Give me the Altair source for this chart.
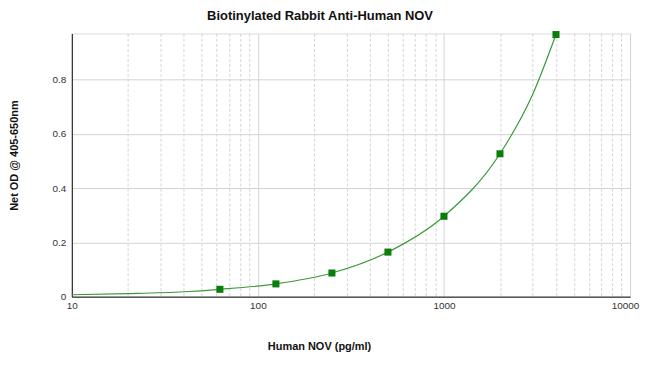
import altair as alt
import pandas as pd

# Measured standards (concentration pg/ml, net OD)
conc = [62.5, 125, 250, 500, 1000, 2000, 4000]
od = [0.027, 0.047, 0.087, 0.164, 0.296, 0.526, 0.965]

# Fitted curve
curve_x = [10, 20, 40, 62.5, 125, 250, 500, 1000, 2000, 3000, 4000]
curve_y = [0.007, 0.011, 0.018, 0.027, 0.047, 0.087, 0.164, 0.296, 0.526, 0.745, 0.965]

# Axis ticks
x_ticks = [10, 20, 30, 40, 50, 60, 70, 80, 90,
           100, 200, 300, 400, 500, 600, 700, 800, 900,
           1000, 2000, 3000, 4000, 5000, 6000, 7000, 8000, 9000, 10000]
x_major = [10, 100, 1000, 10000]
y_ticks = [0, 0.2, 0.4, 0.6, 0.8]

pts = pd.DataFrame({"conc": conc, "od": od})
crv = pd.DataFrame({"conc": curve_x, "od": curve_y})

FONT = "Liberation Sans"
major_test = "indexof([10,100,1000,10000], datum.value) >= 0"

x_scale = alt.Scale(type="log", domain=[10, 10000], nice=False)
y_scale = alt.Scale(domain=[0, 0.969], nice=False, zero=True)

x_axis = alt.Axis(
    values=x_ticks,
    title="Human NOV (pg/ml)",
    titleFont=FONT, titleFontSize=11, titleFontWeight="bold", titleColor="#111",
    titleX=248, titleY=50, titleAlign="center", titleBaseline="middle",
    labelExpr=f"{major_test} ? toString(datum.value) : ''",
    labelFont=FONT, labelFontSize=10, labelColor="#333", labelPadding=4,
    labelFlush=False,
    labelOffset=alt.condition("datum.value == 10000", alt.value(-5), alt.value(0)),
    ticks=False,
    grid=True,
    gridColor="#d4d4d4",
    gridWidth=1,
    gridDash=alt.condition(major_test, alt.value([]), alt.value([3, 2])),
    domainColor="#111", domainWidth=1,
)

y_axis = alt.Axis(
    values=y_ticks,
    format="~g",
    title="Net OD @ 405-650nm",
    titleFont=FONT, titleFontSize=11, titleFontWeight="bold", titleColor="#111",
    titleX=-57, titleY=122, titleAngle=270, titleAlign="center", titleBaseline="middle",
    labelFont=FONT, labelFontSize=10, labelColor="#333", labelPadding=6,
    ticks=False,
    grid=True, gridColor="#d4d4d4", gridWidth=1,
    domainColor="#111", domainWidth=1,
)

line = alt.Chart(crv).mark_line(color="#3a9a3a", strokeWidth=1.2, interpolate="monotone").encode(
    x=alt.X("conc:Q", scale=x_scale, axis=x_axis),
    y=alt.Y("od:Q", scale=y_scale, axis=y_axis),
)

points = alt.Chart(pts).mark_point(shape="square", filled=True, size=50, color="#0b7d0b", opacity=1).encode(
    x=alt.X("conc:Q", scale=x_scale),
    y=alt.Y("od:Q", scale=y_scale),
)

chart = alt.layer(line, points).properties(
    width=560,
    height=264,
    title=alt.TitleParams(
        "Biotinylated Rabbit Anti-Human NOV",
        font=FONT, fontSize=13, fontWeight="bold", color="#111",
        anchor="middle", dx=-31, offset=2, baseline="middle", frame="group",
    ),
    autosize=alt.AutoSizeParams(type="none"),
    padding={"left": 64, "top": 25, "right": 12, "bottom": 65},
).configure_view(
    stroke="#555", strokeWidth=2,
).configure(background="white")

chart.save("out.html", embed_options={"renderer": "svg", "actions": False})
